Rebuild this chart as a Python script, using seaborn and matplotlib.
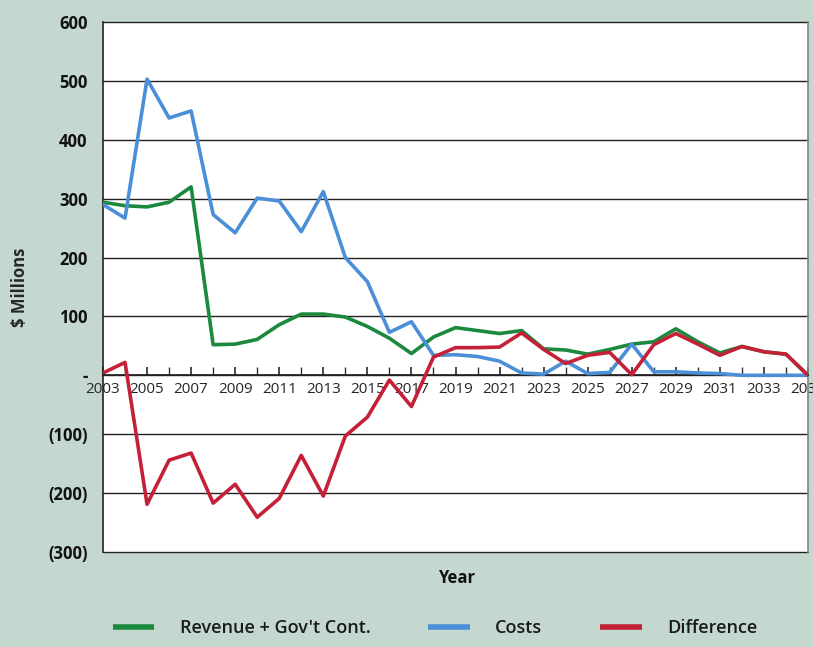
import numpy as np
import pandas as pd
import matplotlib
matplotlib.use("Agg")
import matplotlib.pyplot as plt
import seaborn as sns

years = list(range(2003, 2036))
revenue = [294, 288, 286, 294, 320, 52, 53, 61, 86, 104, 104, 99, 83, 63, 37, 65, 81, 76, 71, 76,
           45, 43, 36, 44, 53, 57, 79, 57, 38, 49, 40, 36, 0]
costs = [290, 267, 503, 437, 449, 273, 242, 301, 296, 244, 312, 200, 159, 73, 91, 34, 35, 32, 24, 4,
         2, 24, 3, 5, 53, 6, 6, 4, 3, 0, 0, 0, 0]
difference = [4, 22, -219, -144, -132, -217, -185, -241, -209, -136, -205, -103, -71, -8, -53, 31, 47, 47, 48, 72,
              44, 20, 34, 39, 1, 52, 71, 53, 34, 49, 40, 36, 0]
series_names = ["Revenue + Gov't Cont.", "Costs", "Difference"]
y_ticks = [600, 500, 400, 300, 200, 100, 0, -100, -200, -300]
y_tick_labels = ["600", "500", "400", "300", "200", "100", "-", "(100)", "(200)", "(300)"]

df = pd.DataFrame({
    "Year": years * 3,
    "Value": revenue + costs + difference,
    "Series": [series_names[0]] * len(years) + [series_names[1]] * len(years) + [series_names[2]] * len(years),
})

sns.set_theme(style="white")
plt.rcParams["font.family"] = ["Open Sans", "DejaVu Sans"]

bg = "#c4d8cf"
fig = plt.figure(figsize=(8.13, 6.47), dpi=100, facecolor=bg)
ax = fig.add_axes([103 / 813, 1 - 552 / 647, (808 - 103) / 813, (552 - 22) / 647])
ax.set_facecolor("white")

palette = {series_names[0]: "#1b8a3e", series_names[1]: "#4a8fd8", series_names[2]: "#c42038"}
sns.lineplot(data=df, x="Year", y="Value", hue="Series", palette=palette, linewidth=2.6, ax=ax,
             legend=True, zorder=3)

ax.set_xlim(2003, 2035)
ax.set_ylim(-300, 600)
ax.set_yticks(y_ticks)
ax.set_yticklabels(y_tick_labels, fontsize=12, fontweight="bold", color="#111111")
for yv in y_ticks:
    ax.axhline(yv, color="#222222", linewidth=1.0, zorder=1, clip_on=False)

ax.set_xticks(years[::2])
ax.set_xticks(years, minor=True)
ax.set_xticklabels([str(y) for y in years[::2]], fontsize=10.5, fontweight="bold", color="#111111")
ax.spines["bottom"].set_position(("data", 0))
ax.spines["bottom"].set_color("#222222")
ax.spines["left"].set_color("#222222")
ax.spines["left"].set_linewidth(1.2)
ax.spines["top"].set_visible(False)
ax.spines["right"].set_color("#888888")
ax.tick_params(axis="x", which="both", direction="in", length=6, color="#333333", pad=5, bottom=True)
ax.tick_params(axis="y", length=0, pad=11)

ax.set_xlabel("")
ax.set_ylabel("$ Millions", fontsize=12, fontweight="bold", labelpad=14)
fig.text(457 / 813, 1 - 578 / 647, "Year", ha="center", va="center", fontsize=12, fontweight="bold",
         color="#111111")

handles, labels = ax.get_legend_handles_labels()
ax.get_legend().remove()
for h in handles:
    h.set_linewidth(4)
    h.set_solid_capstyle("butt")
leg = fig.legend(handles, labels, loc="center", bbox_to_anchor=(435 / 813, 1 - 628 / 647), ncol=3,
                 frameon=False, prop={"size": 13, "weight": "semibold"}, handlelength=2.3,
                 handletextpad=1.4, columnspacing=3.2)
for t in leg.get_texts():
    t.set_color("#1a1a1a")

fig.savefig("out.png", dpi=100, facecolor=bg)
